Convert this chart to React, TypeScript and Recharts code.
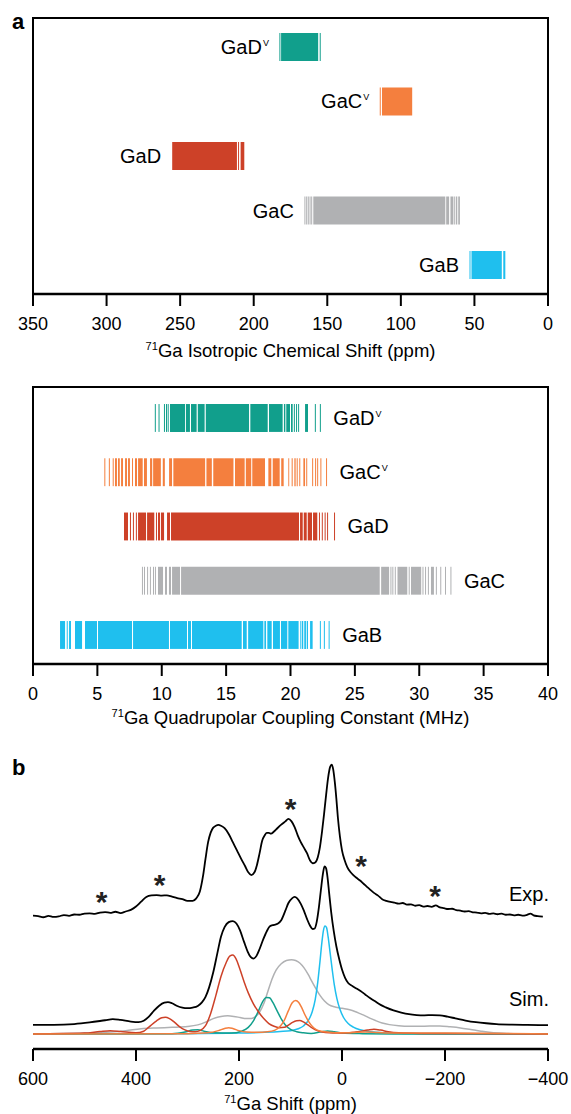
import React from 'react';
import {
  ScatterChart,
  ComposedChart,
  Scatter,
  Line,
  XAxis,
  YAxis,
  ReferenceArea,
  ReferenceLine,
} from 'recharts';

type Range = [number, number];
type Pt = [number, number];

const FONT = '"Liberation Sans", Arial, Helvetica, sans-serif';

const TEAL = '#119f8c';
const ORANGE = '#f47f3e';
const RED = '#cd4128';
const GRAY = '#b0b1b3';
const BLUE = '#1fbfee';

// ---- 71Ga isotropic chemical shift (ppm): dense blocks + single lines ----
const isoGaDVRanges: Range[] = [[156.2, 181.4]];
const isoGaDVLines = [182.2, 154.8];
const isoGaCVRanges: Range[] = [[92.3, 112.8]];
const isoGaCVLines = [114.0];
const isoGaDRanges: Range[] = [[211.4, 255.4], [206.4, 208.9]];
const isoGaDLines = [210.3];
const isoGaCRanges: Range[] = [[69.8, 159.5], [67.2, 69.2], [64.3, 66.3]];
const isoGaCLines = [165.2, 164.0, 162.9, 161.7, 160.6, 63.4, 62.2, 61.0, 60.2];
const isoGaBRanges: Range[] = [[31.4, 52.0], [29.0, 30.4]];
const isoGaBLines = [53.0];

// ---- 71Ga quadrupolar coupling constant (MHz) ----
const cqGaDVRanges: Range[] = [
  [10.64, 11.81], [11.88, 12.19], [12.27, 12.71], [12.8, 13.33], [13.42, 16.78],
  [16.88, 18.23], [18.33, 19.39], [19.49, 19.6], [19.67, 19.96], [20.04, 20.17],
  [21.13, 21.36],
];
const cqGaDVLines = [9.5, 9.79, 10.21, 10.37, 10.5, 20.3, 20.47, 20.63, 21.93, 22.32];
const cqGaCVRanges: Range[] = [
  [6.37, 6.52], [6.6, 6.74], [6.84, 6.99], [7.15, 7.3], [7.38, 7.53], [7.92, 8.08],
  [8.16, 8.52], [8.62, 8.85], [9.09, 9.26], [9.33, 9.93], [10.08, 10.24], [10.57, 10.8],
  [10.9, 13.37], [13.47, 13.89], [14.0, 15.57], [15.69, 16.44], [16.53, 16.95],
  [17.03, 18.02], [18.28, 18.51], [18.62, 19.16], [19.28, 19.47], [19.83, 19.9],
  [20.09, 20.17], [20.3, 20.4], [20.48, 20.56], [21.0, 21.13],
];
const cqGaCVLines = [5.58, 5.93, 6.23, 7.73, 20.72, 21.26, 21.72, 21.95, 22.11, 22.36, 22.8];
const cqGaDRanges: Range[] = [
  [7.07, 7.38], [8.16, 8.78], [8.86, 9.42], [9.71, 9.87], [9.94, 10.18], [10.41, 10.64],
  [10.72, 20.66], [20.74, 20.95], [21.03, 21.26], [21.34, 21.67], [21.75, 22.08],
];
const cqGaDLines = [7.57, 7.8, 8.03, 9.59, 22.25, 22.47, 22.69, 22.88, 23.42];
const cqGaCRanges: Range[] = [
  [9.71, 10.1], [10.25, 10.41], [10.56, 10.72], [10.8, 11.42], [11.5, 26.93],
  [27.04, 27.66], [28.31, 29.07], [29.36, 30.15], [30.91, 31.14],
];
const cqGaCLines = [
  8.5, 8.66, 8.9, 9.12, 9.36, 9.51, 27.8, 27.95, 28.14, 29.22, 30.29, 30.49, 30.71,
  31.33, 31.67, 32.04, 32.46,
];
const cqGaBRanges: Range[] = [
  [2.1, 2.49], [2.8, 2.95], [3.26, 3.81], [4.04, 4.97], [5.05, 7.69], [7.77, 10.56],
  [10.64, 11.96], [12.04, 12.27], [12.35, 16.21], [16.31, 16.6], [16.71, 17.89],
  [17.97, 18.1], [18.2, 18.54], [18.64, 19.18], [19.26, 19.75], [19.83, 20.63],
  [20.89, 20.99], [21.07, 21.2], [21.26, 21.36], [21.52, 21.72],
];
const cqGaBLines = [2.66, 20.8, 22.32, 22.63, 23.0];

// ---- 71Ga spectrum (ppm, intensity) ----
const expSpectrum: Pt[] = [
  [600, 43.2], [590, 43.0], [580, 42.6], [570, 43.1], [560, 42.7], [550, 42.9],
  [540, 43.4], [530, 43.1], [520, 43.6], [510, 43.5], [500, 43.9], [490, 44.0],
  [480, 43.8], [470, 44.3], [460, 44.5], [450, 44.2], [440, 44.6], [430, 44.1],
  [420, 44.7], [410, 45.3], [400, 46.5], [390, 48.3], [380, 50.0], [370, 50.6],
  [360, 50.7], [350, 50.5], [340, 50.6], [330, 50.1], [320, 49.6], [310, 49.2],
  [300, 48.6], [290, 48.6], [283, 49.5], [276, 52.0], [270, 57.5], [265, 64.0],
  [260, 70.0], [255, 73.5], [250, 75.3], [245, 76.0], [240, 76.3], [235, 76.0],
  [228, 75.1], [220, 73.0], [212, 70.0], [204, 67.0], [196, 64.0], [188, 61.2],
  [182, 59.0], [176, 58.0], [170, 59.0], [165, 61.8], [160, 66.0], [155, 70.5],
  [150, 72.5], [146, 73.4], [142, 73.4], [138, 73.1], [132, 73.9], [126, 75.0],
  [118, 76.4], [110, 77.6], [104, 78.5], [98, 77.6], [92, 75.5], [86, 72.5],
  [80, 70.0], [74, 68.0], [68, 66.0], [62, 63.3], [57, 62.3], [52, 62.6],
  [47, 64.5], [43, 68.0], [39, 73.5], [35, 80.0], [31, 87.0], [27, 93.5],
  [23, 97.5], [20, 98.3], [17, 96.5], [14, 92.0], [11, 86.0], [8, 79.0],
  [4, 72.0], [0, 67.0], [-5, 63.5], [-10, 61.0], [-16, 59.2], [-22, 58.0],
  [-28, 57.0], [-35, 56.0], [-41, 55.0], [-48, 53.8], [-55, 52.6], [-62, 51.5],
  [-70, 50.5], [-78, 49.2], [-86, 48.6], [-94, 48.2], [-102, 47.9], [-110, 47.6],
  [-118, 47.8], [-126, 47.2], [-134, 47.3], [-142, 46.8], [-150, 47.0], [-158, 46.5],
  [-166, 46.7], [-174, 46.4], [-182, 46.9], [-190, 46.2], [-198, 45.9], [-206, 45.6],
  [-214, 45.7], [-222, 45.2], [-230, 45.0], [-238, 44.7], [-246, 44.8], [-254, 44.4],
  [-262, 44.3], [-270, 44.0], [-278, 44.2], [-286, 43.8], [-294, 44.0], [-302, 43.7],
  [-310, 43.9], [-318, 43.5], [-326, 43.6], [-334, 43.3], [-342, 43.5], [-350, 43.2],
  [-358, 43.4], [-366, 43.9], [-372, 43.3], [-380, 43.0], [-390, 42.8],
];
const simTotal: Pt[] = [
  [600, 3.3], [560, 3.3], [520, 3.6], [490, 4.2], [460, 5.0], [445, 5.4], [430, 5.1],
  [410, 4.5], [395, 4.3], [385, 4.8], [375, 6.3], [365, 8.5], [355, 10.3], [345, 11.4],
  [338, 11.6], [330, 11.2], [320, 10.2], [310, 9.6], [300, 9.4], [290, 9.6], [280, 10.2],
  [272, 11.5], [265, 13.5], [258, 17.0], [250, 22.5], [242, 29.5], [235, 35.5],
  [228, 39.0], [220, 40.8], [212, 41.2], [205, 40.3], [198, 37.8], [190, 33.5],
  [183, 30.0], [177, 28.0], [172, 27.5], [166, 28.5], [160, 31.0], [153, 34.5],
  [146, 37.5], [140, 39.3], [132, 39.8], [125, 40.2], [118, 41.5], [110, 45.0],
  [104, 47.8], [97, 49.5], [92, 50.0], [87, 49.5], [80, 47.5], [74, 45.0], [68, 42.0],
  [62, 39.5], [57, 38.3], [53, 38.5], [49, 41.0], [45, 46.0], [41, 52.5], [37, 58.5],
  [34, 61.2], [31, 60.5], [28, 57.0], [25, 51.5], [21, 44.5], [16, 37.5], [11, 32.0],
  [5, 27.0], [0, 23.5], [-6, 20.5], [-12, 18.6], [-20, 17.5], [-28, 16.6], [-36, 15.7],
  [-45, 14.4], [-55, 13.0], [-65, 11.8], [-75, 10.6], [-85, 9.7], [-100, 8.6],
  [-115, 7.8], [-130, 7.2], [-145, 6.9], [-160, 6.8], [-175, 6.9], [-190, 6.8],
  [-205, 6.3], [-220, 5.7], [-240, 4.9], [-260, 4.3], [-280, 3.9], [-300, 3.6],
  [-330, 3.4], [-360, 3.3], [-400, 3.2],
];
const simGaC: Pt[] = [
  [600, 0], [500, 0.3], [450, 0.7], [420, 1.2], [390, 1.9], [360, 2.2], [330, 2.4],
  [300, 2.7], [280, 3.3], [265, 4.3], [250, 5.6], [235, 6.4], [222, 6.6], [210, 6.4],
  [198, 6.0], [186, 5.6], [176, 5.6], [168, 6.3], [160, 8.0], [152, 11.0], [144, 15.5],
  [136, 20.0], [128, 23.3], [118, 25.6], [108, 26.8], [98, 27.1], [90, 26.8], [82, 25.9],
  [74, 24.2], [66, 21.8], [58, 19.0], [50, 16.3], [42, 13.9], [34, 12.0], [25, 10.6],
  [15, 9.9], [5, 9.5], [-5, 9.2], [-15, 8.8], [-25, 8.2], [-35, 7.4], [-45, 6.6],
  [-55, 5.7], [-65, 4.9], [-78, 4.0], [-92, 3.4], [-110, 3.0], [-130, 2.8], [-150, 2.8],
  [-170, 2.9], [-190, 2.9], [-210, 2.6], [-230, 2.2], [-250, 1.6], [-270, 1.0],
  [-290, 0.5], [-320, 0.2], [-360, 0], [-400, 0],
];
const simGaB: Pt[] = [
  [600, 0], [300, 0.1], [200, 0.3], [150, 0.6], [120, 0.9], [100, 1.2], [85, 1.9],
  [75, 2.9], [65, 5.0], [58, 8.0], [52, 12.5], [47, 19.0], [43, 26.0], [39, 33.5],
  [36, 37.8], [33, 39.4], [30, 38.8], [27, 35.5], [23, 29.5], [19, 23.5], [15, 18.0],
  [10, 13.0], [4, 9.0], [-3, 6.0], [-12, 3.8], [-22, 2.5], [-35, 1.5], [-55, 0.8],
  [-80, 0.4], [-120, 0.2], [-400, 0],
];
const simGaDV: Pt[] = [
  [600, 0], [330, 0.1], [305, 0.7], [290, 1.4], [280, 1.5], [268, 1.0], [250, 0.4],
  [215, 0.3], [195, 1.0], [182, 2.4], [172, 4.8], [162, 8.5], [154, 11.8], [147, 13.3],
  [141, 13.2], [134, 11.4], [126, 8.4], [118, 5.5], [110, 3.3], [100, 1.7], [88, 0.8],
  [75, 0.4], [60, 0.2], [40, 0.8], [28, 1.1], [15, 0.8], [0, 0.3], [-40, 0.1],
  [-100, 0], [-400, 0],
];
const simGaD: Pt[] = [
  [600, 0], [500, 0.3], [470, 0.9], [450, 1.2], [430, 0.9], [400, 0.4], [385, 1.0],
  [375, 2.5], [360, 4.8], [350, 5.9], [343, 6.1], [335, 5.6], [325, 4.2], [315, 2.6],
  [305, 1.5], [295, 0.9], [285, 0.8], [275, 1.3], [265, 3.0], [255, 7.5], [245, 14.0],
  [235, 21.0], [225, 26.0], [218, 28.4], [212, 28.8], [206, 27.5], [198, 23.5],
  [190, 19.0], [182, 15.0], [172, 11.0], [162, 8.0], [152, 5.6], [142, 3.8], [132, 2.8],
  [122, 2.3], [112, 2.4], [104, 3.2], [96, 4.2], [88, 4.8], [82, 4.9], [75, 4.4],
  [67, 3.4], [58, 2.2], [48, 1.2], [38, 0.7], [25, 0.4], [10, 0.3], [-10, 0.4],
  [-30, 0.8], [-50, 1.4], [-62, 1.7], [-75, 1.4], [-90, 0.8], [-110, 0.4], [-150, 0.2],
  [-400, 0],
];
const simGaCV: Pt[] = [
  [600, 0], [300, 0.1], [260, 0.4], [240, 1.2], [228, 2.0], [220, 2.3], [212, 2.0],
  [200, 1.2], [185, 0.7], [165, 0.6], [145, 0.8], [130, 1.4], [120, 2.8], [112, 5.0],
  [104, 8.5], [97, 11.3], [90, 12.2], [84, 11.5], [78, 9.5], [72, 7.0], [65, 4.6],
  [58, 2.8], [50, 1.6], [40, 1.0], [25, 0.6], [0, 0.4], [-20, 0.5], [-45, 0.7],
  [-70, 0.5], [-100, 0.3], [-200, 0.3], [-400, 0],
];
// spinning sidebands marked with asterisks
const sidebandShifts = [467, 354, 100, -37, -181];
const sidebandHeights = [50.7, 56.8, 84.8, 63.8, 52.8];

const isoTicks = [350, 300, 250, 200, 150, 100, 50, 0];
const cqTicks = [0, 5, 10, 15, 20, 25, 30, 35, 40];
const shiftTicks = [600, 400, 200, 0, -200, -400];

interface Row {
  name: string;
  sup?: string;
  color: string;
  ranges: Range[];
  lines: number[];
}

const isoRows: Row[] = [
  { name: 'GaD', sup: 'V', color: TEAL, ranges: isoGaDVRanges, lines: isoGaDVLines },
  { name: 'GaC', sup: 'V', color: ORANGE, ranges: isoGaCVRanges, lines: isoGaCVLines },
  { name: 'GaD', color: RED, ranges: isoGaDRanges, lines: isoGaDLines },
  { name: 'GaC', color: GRAY, ranges: isoGaCRanges, lines: isoGaCLines },
  { name: 'GaB', color: BLUE, ranges: isoGaBRanges, lines: isoGaBLines },
];

const cqRows: Row[] = [
  { name: 'GaD', sup: 'V', color: TEAL, ranges: cqGaDVRanges, lines: cqGaDVLines },
  { name: 'GaC', sup: 'V', color: ORANGE, ranges: cqGaCVRanges, lines: cqGaCVLines },
  { name: 'GaD', color: RED, ranges: cqGaDRanges, lines: cqGaDLines },
  { name: 'GaC', color: GRAY, ranges: cqGaCRanges, lines: cqGaCLines },
  { name: 'GaB', color: BLUE, ranges: cqGaBRanges, lines: cqGaBLines },
];

const toXY = (pts: Pt[]) => pts.map(([x, y]) => ({ x, y }));

const axisProps = {
  type: 'number' as const,
  dataKey: 'x',
  allowDataOverflow: true,
  interval: 0 as const,
  tickSize: 12,
  tickMargin: 11,
  axisLine: { stroke: '#000', strokeWidth: 2.5 },
  tickLine: { stroke: '#000', strokeWidth: 2 },
  tick: { fill: '#000', fontSize: 18 },
};

const BAR_HALF = 0.257;

const RowLabel = (props: any) => {
  const { cx, cy, payload, side } = props;
  const left = side === 'left';
  return (
    <text
      x={left ? cx - 11 : cx + 13}
      y={cy + 7}
      textAnchor={left ? 'end' : 'start'}
      fontSize={20}
      fill="#000"
    >
      {payload.name}
      {payload.sup && (
        <tspan dy={-8} dx={1} fontSize={9}>
          {payload.sup}
        </tspan>
      )}
    </text>
  );
};

interface BarPanelProps {
  rows: Row[];
  xDomain: [number, number];
  reversed?: boolean;
  ticks: number[];
  yDomain: [number, number];
  side: 'left' | 'right';
  marginTop: number;
}

// one row of ranges per Ga site, with the site label beside it
const BarPanel = ({ rows, xDomain, reversed, ticks, yDomain, side, marginTop }: BarPanelProps) => {
  const n = rows.length;
  const labels = rows.map((r, i) => ({
    x: Math.max(...r.ranges.flat(), ...r.lines),
    y: n - 1 - i,
    name: r.name,
    sup: r.sup,
  }));
  const marks: React.ReactNode[] = [];
  rows.forEach((r, i) => {
    const y = n - 1 - i;
    r.ranges.forEach(([a, b], k) =>
      marks.push(
        <ReferenceArea
          key={`a-${i}-${k}`}
          x1={a}
          x2={b}
          y1={y - BAR_HALF}
          y2={y + BAR_HALF}
          fill={r.color}
          fillOpacity={1}
          stroke="none"
        />
      )
    );
    r.lines.forEach((v, k) =>
      marks.push(
        <ReferenceLine
          key={`l-${i}-${k}`}
          segment={[
            { x: v, y: y - BAR_HALF },
            { x: v, y: y + BAR_HALF },
          ]}
          stroke={r.color}
          strokeWidth={1}
        />
      )
    );
  });
  return (
    <ScatterChart width={571} height={370} margin={{ top: marginTop, right: 23, bottom: 46, left: 33 }}>
      <XAxis {...axisProps} domain={xDomain} reversed={reversed} ticks={ticks} height={30} />
      <YAxis type="number" dataKey="y" domain={yDomain} hide allowDataOverflow />
      <ReferenceArea
        x1={xDomain[0]}
        x2={xDomain[1]}
        y1={yDomain[0]}
        y2={yDomain[1]}
        fill="none"
        stroke="#000"
        strokeWidth={2}
      />
      {marks}
      <Scatter
        data={labels}
        isAnimationActive={false}
        shape={(p: any) => <RowLabel {...p} side={side} />}
      />
    </ScatterChart>
  );
};

const Asterisk = (props: any) => {
  const { cx, cy } = props;
  return (
    <text x={cx} y={cy + 17} textAnchor="middle" fontSize={30} fontWeight="bold" fill="#222">
      *
    </text>
  );
};

const fmtShift = (v: number) => (v < 0 ? `\u2212${Math.abs(v)}` : String(v));

const SpectrumPanel = () => {
  const sidebands = sidebandShifts.map((x, i) => ({ x, y: sidebandHeights[i] }));
  const series: { data: Pt[]; color: string; width: number }[] = [
    { data: simGaC, color: GRAY, width: 1.5 },
    { data: simGaB, color: BLUE, width: 1.5 },
    { data: simGaDV, color: TEAL, width: 1.5 },
    { data: simGaD, color: RED, width: 1.5 },
    { data: simGaCV, color: ORANGE, width: 1.5 },
    { data: simTotal, color: '#000', width: 1.8 },
    { data: expSpectrum, color: '#000', width: 1.8 },
  ];
  return (
    <ComposedChart width={571} height={374} margin={{ top: 20, right: 23, bottom: 35, left: 33 }}>
      <XAxis
        {...axisProps}
        domain={[-400, 600]}
        reversed
        ticks={shiftTicks}
        tickFormatter={fmtShift}
        height={30}
      />
      <YAxis type="number" dataKey="y" domain={[-5.5, 100]} hide allowDataOverflow />
      {series.map((s, i) => (
        <Line
          key={i}
          data={toXY(s.data)}
          dataKey="y"
          type="monotone"
          stroke={s.color}
          strokeWidth={s.width}
          dot={false}
          activeDot={false}
          isAnimationActive={false}
        />
      ))}
      <Scatter data={sidebands} isAnimationActive={false} shape={Asterisk} />
    </ComposedChart>
  );
};

const AxisTitle = ({ top, children }: { top: number; children: React.ReactNode }) => (
  <div
    style={{
      position: 'absolute',
      left: 33,
      width: 515,
      top,
      textAlign: 'center',
      fontSize: 18.5,
      lineHeight: '22px',
      whiteSpace: 'nowrap',
    }}
  >
    {children}
  </div>
);

const Sup71 = () => (
  <sup style={{ fontSize: '0.6em', verticalAlign: '0.6em', lineHeight: 0 }}>71</sup>
);

const PanelLetter = ({ top, children }: { top: number; children: React.ReactNode }) => (
  <div
    style={{ position: 'absolute', left: 12, top, fontSize: 22, fontWeight: 'bold', lineHeight: '26px' }}
  >
    {children}
  </div>
);

const SideLabel = ({ top, children }: { top: number; children: React.ReactNode }) => (
  <div style={{ position: 'absolute', right: 22, top, fontSize: 20, lineHeight: '24px' }}>
    {children}
  </div>
);

export default function App() {
  return (
    <div
      style={{
        position: 'absolute',
        left: 0,
        top: 0,
        width: 571,
        height: 1114,
        background: '#fff',
        color: '#000',
        fontFamily: FONT,
      }}
    >
      <div style={{ position: 'absolute', left: 0, top: 0 }}>
        <BarPanel
          rows={isoRows}
          xDomain={[0, 350]}
          reversed
          ticks={isoTicks}
          yDomain={[-0.532, 4.532]}
          side="left"
          marginTop={18}
        />
      </div>
      <div style={{ position: 'absolute', left: 0, top: 370 }}>
        <BarPanel
          rows={cqRows}
          xDomain={[0, 40]}
          ticks={cqTicks}
          yDomain={[-0.535, 4.571]}
          side="right"
          marginTop={17}
        />
      </div>
      <div style={{ position: 'absolute', left: 0, top: 740 }}>
        <SpectrumPanel />
      </div>

      <PanelLetter top={9}>a</PanelLetter>
      <PanelLetter top={755}>b</PanelLetter>

      <AxisTitle top={340}>
        <Sup71 />Ga Isotropic Chemical Shift (ppm)
      </AxisTitle>
      <AxisTitle top={707}>
        <Sup71 />Ga Quadrupolar Coupling Constant (MHz)
      </AxisTitle>
      <AxisTitle top={1093}>
        <Sup71 />Ga Shift (ppm)
      </AxisTitle>

      <SideLabel top={882}>Exp.</SideLabel>
      <SideLabel top={987}>Sim.</SideLabel>
    </div>
  );
}
